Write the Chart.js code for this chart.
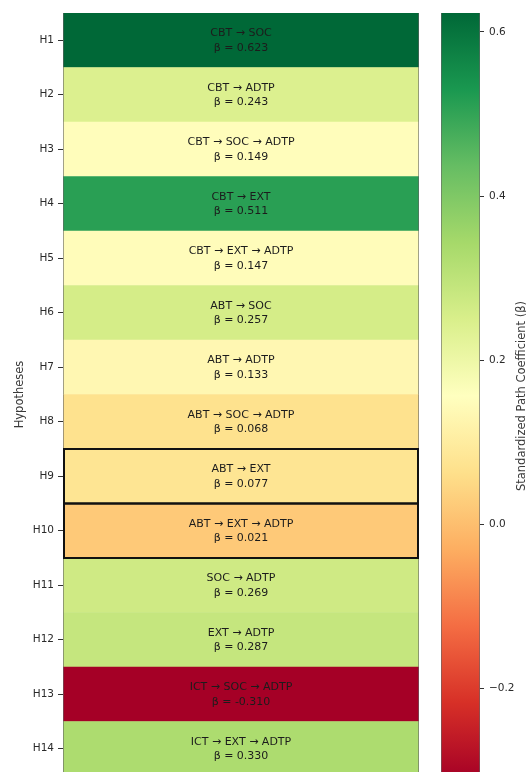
<!DOCTYPE html>
<html>
<head>
<meta charset="utf-8">
<script src="https://cdn.jsdelivr.net/npm/chart.js@4/dist/chart.umd.min.js"></script>
<style>
  html, body { margin: 0; padding: 0; background: #fff; overflow: hidden; }
  #wrap { position: relative; width: 526px; height: 772px; overflow: hidden; }
  #heat { position: absolute; left: 0; top: 0; }
  #cbar { position: absolute; left: 430px; top: 0; }
</style>
</head>
<body>
<div id="wrap">
  <canvas id="heat" width="430" height="782"></canvas>
  <canvas id="cbar" width="96" height="782"></canvas>
</div>
<script>
// hypotheses, paths and standardized coefficients, top to bottom
const hypotheses = ['H1', 'H2', 'H3', 'H4', 'H5', 'H6', 'H7', 'H8', 'H9', 'H10', 'H11', 'H12', 'H13', 'H14'];
const paths = [
    'CBT → SOC', 'CBT → ADTP', 'CBT → SOC → ADTP', 'CBT → EXT', 'CBT → EXT → ADTP',
    'ABT → SOC', 'ABT → ADTP', 'ABT → SOC → ADTP', 'ABT → EXT', 'ABT → EXT → ADTP',
    'SOC → ADTP', 'EXT → ADTP', 'ICT → SOC → ADTP', 'ICT → EXT → ADTP'
];
const betas = [0.623, 0.243, 0.149, 0.511, 0.147, 0.257, 0.133, 0.068, 0.077, 0.021, 0.269, 0.287, -0.310, 0.330];
const highlighted = ['H9', 'H10'];
const colorbarTicks = [-0.2, 0.0, 0.2, 0.4, 0.6];

const vmin = Math.min(...betas);
const vmax = Math.max(...betas);

// RdYlGn stops (matplotlib)
const rdylgn = ['#a50026', '#d73027', '#f46d43', '#fdae61', '#fee08b', '#ffffbf',
                '#d9ef8b', '#a6d96a', '#66bd63', '#1a9850', '#006837'];

function hexToRgb(h) {
    return [parseInt(h.slice(1, 3), 16), parseInt(h.slice(3, 5), 16), parseInt(h.slice(5, 7), 16)];
}

function cmap(v) {
    let t = (v - vmin) / (vmax - vmin);
    t = Math.max(0, Math.min(1, t));
    let pos = t * (rdylgn.length - 1);
    let i = Math.min(Math.floor(pos), rdylgn.length - 2);
    let f = pos - i;
    let a = hexToRgb(rdylgn[i]), b = hexToRgb(rdylgn[i + 1]);
    let c = a.map((x, k) => Math.round(x + (b[k] - x) * f));
    return 'rgb(' + c.join(',') + ')';
}

const FONT = '"DejaVu Sans", Verdana, sans-serif';

// keep the vertical axes from adding their own label padding to the plot area
function fixAxis(width) {
    return (scale) => {
        scale.width = width;
        scale.paddingTop = 0;
        scale.paddingBottom = 0;
    };
}

const cellLabels = {
    id: 'cellLabels',
    afterDatasetsDraw(chart) {
        const ctx = chart.ctx;
        const meta = chart.getDatasetMeta(0);
        const area = chart.chartArea;
        ctx.save();
        // thin edges left and right
        ctx.strokeStyle = 'rgba(100,100,100,0.6)';
        ctx.lineWidth = 1;
        ctx.beginPath();
        ctx.moveTo(area.left + 0.5, area.top);
        ctx.lineTo(area.left + 0.5, area.bottom);
        ctx.moveTo(area.right - 0.5, area.top);
        ctx.lineTo(area.right - 0.5, area.bottom);
        ctx.stroke();

        ctx.font = '11px ' + FONT;
        ctx.fillStyle = '#1c1c1c';
        ctx.textAlign = 'center';
        ctx.textBaseline = 'middle';
        meta.data.forEach((el, i) => {
            const cx = (el.x + el.base) / 2;
            ctx.fillText(paths[i], cx, el.y - 7);
            ctx.fillText('β = ' + betas[i].toFixed(3), cx, el.y + 7.5);
        });

        ctx.strokeStyle = '#111';
        ctx.lineWidth = 2;
        meta.data.forEach((el, i) => {
            if (highlighted.indexOf(hypotheses[i]) < 0) return;
            const left = Math.min(el.x, el.base);
            const w = Math.abs(el.x - el.base);
            ctx.strokeRect(left + 1, el.y - el.height / 2, w - 2, el.height);
        });
        ctx.restore();
    }
};

new Chart(document.getElementById('heat').getContext('2d'), {
    type: 'bar',
    data: {
        labels: hypotheses,
        datasets: [{
            data: betas.map(() => [0, 1]),
            backgroundColor: betas.map(cmap),
            borderWidth: 0,
            barPercentage: 1,
            categoryPercentage: 1
        }]
    },
    options: {
        indexAxis: 'y',
        responsive: false,
        animation: false,
        devicePixelRatio: 1,
        layout: { padding: { top: 13, bottom: 6, left: 0, right: 11 } },
        plugins: { legend: { display: false }, tooltip: { enabled: false } },
        scales: {
            x: { display: false, min: 0, max: 1 },
            y: {
                afterFit: fixAxis(63),
                grid: { drawOnChartArea: false, drawTicks: true, tickLength: 5, offset: false, color: '#333' },
                border: { display: false },
                ticks: { font: { family: FONT, size: 10.5 }, color: '#2a2a2a', padding: 4 },
                title: {
                    display: true, text: 'Hypotheses',
                    font: { family: FONT, size: 11.5 }, color: '#3a3a3a',
                    padding: { top: 13, bottom: 0 }
                }
            }
        }
    },
    plugins: [cellLabels]
});

const colorbarExtras = {
    id: 'colorbarExtras',
    afterDatasetsDraw(chart) {
        const ctx = chart.ctx;
        const area = chart.chartArea;
        ctx.save();
        ctx.strokeStyle = 'rgba(100,100,100,0.6)';
        ctx.lineWidth = 1;
        ctx.beginPath();
        ctx.moveTo(area.left + 0.5, area.top);
        ctx.lineTo(area.left + 0.5, area.bottom);
        ctx.moveTo(area.right - 0.5, area.top);
        ctx.lineTo(area.right - 0.5, area.bottom);
        ctx.stroke();
        ctx.restore();
    },
    afterDraw(chart) {
        const ctx = chart.ctx;
        const area = chart.chartArea;
        ctx.save();
        ctx.translate(92, (area.top + area.bottom) / 2);
        ctx.rotate(-Math.PI / 2);
        ctx.font = '11.5px ' + FONT;
        ctx.fillStyle = '#3a3a3a';
        ctx.textAlign = 'center';
        ctx.textBaseline = 'middle';
        ctx.fillText('Standardized Path Coefficient (β)', 0, 0);
        ctx.restore();
    }
};

new Chart(document.getElementById('cbar').getContext('2d'), {
    type: 'bar',
    data: {
        labels: [''],
        datasets: [{
            data: [[vmin, vmax]],
            backgroundColor: (c) => {
                const chart = c.chart;
                if (!chart.chartArea) return rdylgn[5];
                const y = chart.scales.y;
                const g = chart.ctx.createLinearGradient(0, y.getPixelForValue(vmin), 0, y.getPixelForValue(vmax));
                rdylgn.forEach((col, i) => g.addColorStop(i / (rdylgn.length - 1), col));
                return g;
            },
            borderWidth: 0,
            barPercentage: 1,
            categoryPercentage: 1
        }]
    },
    options: {
        responsive: false,
        animation: false,
        devicePixelRatio: 1,
        layout: { padding: { top: 13, bottom: 3, left: 11, right: 0 } },
        plugins: { legend: { display: false }, tooltip: { enabled: false } },
        scales: {
            x: { display: false },
            y: {
                position: 'right',
                min: vmin,
                max: vmax,
                afterFit: fixAxis(46),
                afterBuildTicks: (scale) => { scale.ticks = colorbarTicks.map(v => ({ value: v })); },
                grid: { drawOnChartArea: false, drawTicks: true, tickLength: 4, offset: false, color: '#333' },
                border: { display: false },
                ticks: {
                    font: { family: FONT, size: 10.5 }, color: '#2a2a2a', padding: 5,
                    callback: (v) => (v < 0 ? '\u2212' + Math.abs(v).toFixed(1) : Math.abs(v).toFixed(1))
                }
            }
        }
    },
    plugins: [colorbarExtras]
});
</script>
</body>
</html>
